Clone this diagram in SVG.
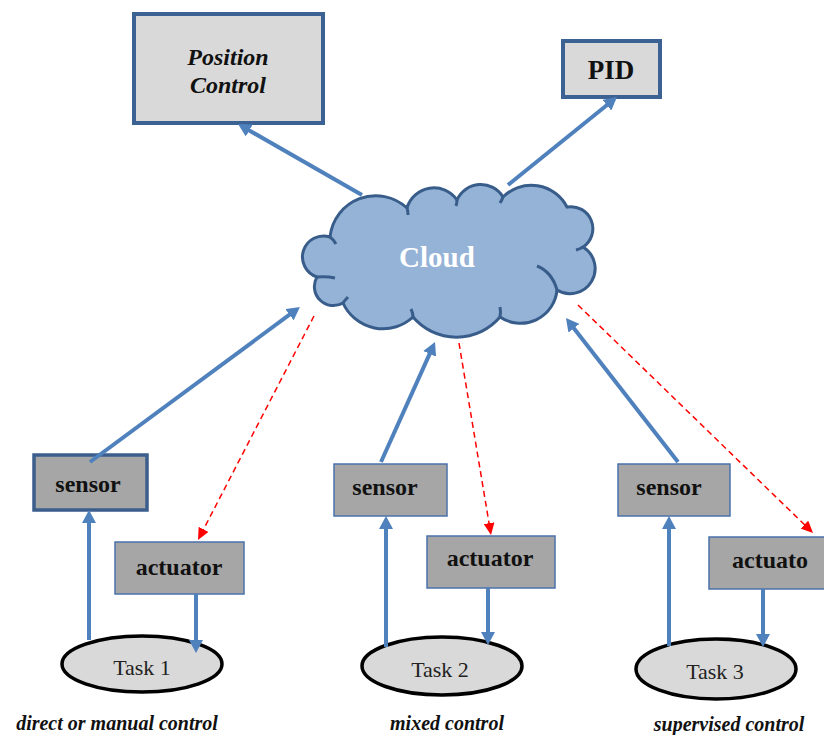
<svg xmlns="http://www.w3.org/2000/svg" width="824" height="735" viewBox="0 0 824 735">
<defs>
<style>
.top{fill:#d9d9d9;stroke:#3b6293;stroke-width:4}
.box{fill:#a6a6a6;stroke:#4a72aa;stroke-width:1.5}
.boxb{fill:#a6a6a6;stroke:#3b5e8c;stroke-width:3.5}
.task{fill:#d9d9d9;stroke:#000;stroke-width:3.5}
text{font-family:'Liberation Serif','Times New Roman','DejaVu Serif',serif}
.lbl{font-weight:bold;font-size:24px;fill:#111;text-anchor:middle}
.tt{font-size:22px;fill:#222;text-anchor:middle}
.cap{font-weight:bold;font-style:italic;font-size:20px;fill:#111;text-anchor:middle}
.blue{stroke:#4f81bd;stroke-width:4;fill:none;marker-end:url(#ab)}
.red{stroke:#ff0000;stroke-width:1.5;stroke-dasharray:6 4;fill:none;marker-end:url(#ar)}
.inner{fill:none;stroke:#385d8a;stroke-width:3}
</style>
<marker id="ab" markerUnits="userSpaceOnUse" markerWidth="14" markerHeight="14" refX="3" refY="7" orient="auto"><path d="M0,0 L13,7 L0,14 z" fill="#4f81bd"/></marker>
<marker id="ar" markerUnits="userSpaceOnUse" markerWidth="13" markerHeight="11" refX="4" refY="5.5" orient="auto"><path d="M0,0 L12,5.5 L0,11 z" fill="#ff0000"/></marker>
</defs>
<rect width="824" height="735" fill="#fff"/>

<g id="position-control">
<rect class="top" x="134" y="14" width="189" height="109"/>
<text class="lbl" font-family="Liberation Serif, serif" style="font-style:italic" x="228" y="65">Position</text>
<text class="lbl" font-family="Liberation Serif, serif" style="font-style:italic" x="228" y="93">Control</text>
</g>

<g id="pid">
<rect class="top" x="563" y="41" width="97" height="56"/>
<text class="lbl" font-family="Liberation Serif, serif" style="font-size:27px" x="611" y="79">PID</text>
</g>

<g id="cloud">
<path d="M317,277 A21,21 0 0 1 330,237 A46,46 0 0 1 407,208 A28,28 0 0 1 457,200 A26,26 0 0 1 503,197 A40,40 0 0 1 567,207 A22,22 0 0 1 583,247 A25,25 0 0 1 557,290 A36.6,36.6 0 0 1 500,317 A57,57 0 0 1 413,317 A44,44 0 0 1 343,303 A19,19 0 0 1 317,277 Z" fill="#95b3d7" stroke="#385d8a" stroke-width="3"/>
<path class="inner" d="M317,277 Q326,276 335,278"/>
<path class="inner" d="M330,237 Q333,239 336,244"/>
<path class="inner" d="M407,208 Q408,211 408,215"/>
<path class="inner" d="M457,200 Q457,203 456,206"/>
<path class="inner" d="M503,197 Q502,200 500,203"/>
<path class="inner" d="M583,247 Q580,249 576,250"/>
<path class="inner" d="M537,266 Q552,272 557,290"/>
<path class="inner" d="M500,317 Q501,312 500,307"/>
<path class="inner" d="M413,317 Q413,313 411,309"/>
<path class="inner" d="M343,303 Q345,300 348,297"/>
<text class="lbl" font-family="Liberation Serif, serif" style="fill:#fff;font-size:29px" x="437" y="267">Cloud</text>
</g>

<g id="sensor1">
<rect class="boxb" x="34" y="455" width="113" height="55"/>
<text class="lbl" font-family="Liberation Serif, serif" x="88" y="492">sensor</text>
</g>
<g id="actuator1">
<rect class="box" x="115" y="542" width="129" height="52"/>
<text class="lbl" font-family="Liberation Serif, serif" x="179" y="575">actuator</text>
</g>
<g id="task1">
<ellipse class="task" cx="142" cy="664" rx="80" ry="28"/>
<text class="tt" font-family="Liberation Serif, serif" x="142" y="675">Task 1</text>
</g>
<text class="cap" font-family="Liberation Serif, serif" x="117" y="730">direct or manual control</text>

<g id="sensor2">
<rect class="box" x="334" y="464" width="113" height="52"/>
<text class="lbl" font-family="Liberation Serif, serif" x="385" y="495">sensor</text>
</g>
<g id="actuator2">
<rect class="box" x="427" y="536" width="128" height="52"/>
<text class="lbl" font-family="Liberation Serif, serif" x="490" y="566">actuator</text>
</g>
<g id="task2">
<ellipse class="task" cx="442" cy="666" rx="80" ry="29"/>
<text class="tt" font-family="Liberation Serif, serif" x="440" y="677">Task 2</text>
</g>
<text class="cap" font-family="Liberation Serif, serif" x="447" y="730">mixed control</text>

<g id="sensor3">
<rect class="box" x="618" y="464" width="112" height="52"/>
<text class="lbl" font-family="Liberation Serif, serif" x="669" y="495">sensor</text>
</g>
<g id="actuator3">
<rect class="box" x="709" y="537" width="120" height="52"/>
<text class="lbl" font-family="Liberation Serif, serif" x="770" y="568">actuato</text>
</g>
<g id="task3">
<ellipse class="task" cx="716" cy="669" rx="80" ry="30"/>
<text class="tt" font-family="Liberation Serif, serif" x="715" y="679">Task 3</text>
</g>
<text class="cap" font-family="Liberation Serif, serif" x="729" y="731">supervised control</text>

<g id="connectors">
<line class="blue" x1="362" y1="195" x2="246.7" y2="129"/>
<line class="blue" x1="508" y1="185" x2="609.2" y2="103.3"/>
<line class="blue" x1="90" y1="462" x2="291.9" y2="312.9"/>
<line class="blue" x1="381" y1="462" x2="430.9" y2="351.1"/>
<line class="blue" x1="678" y1="462" x2="572.1" y2="325.9"/>
<line class="blue" x1="89" y1="640" x2="89" y2="520"/>
<line class="blue" x1="196" y1="594" x2="196" y2="643"/>
<line class="blue" x1="386" y1="647" x2="386" y2="526"/>
<line class="blue" x1="488" y1="588" x2="488" y2="635"/>
<line class="blue" x1="669" y1="646" x2="669" y2="526"/>
<line class="blue" x1="763" y1="589" x2="763" y2="637"/>
<line class="red" x1="314" y1="316" x2="201.7" y2="532.9"/>
<line class="red" x1="459" y1="343" x2="489.7" y2="527.1"/>
<line class="red" x1="578" y1="305" x2="807.3" y2="527.4"/>
</g>
</svg>
